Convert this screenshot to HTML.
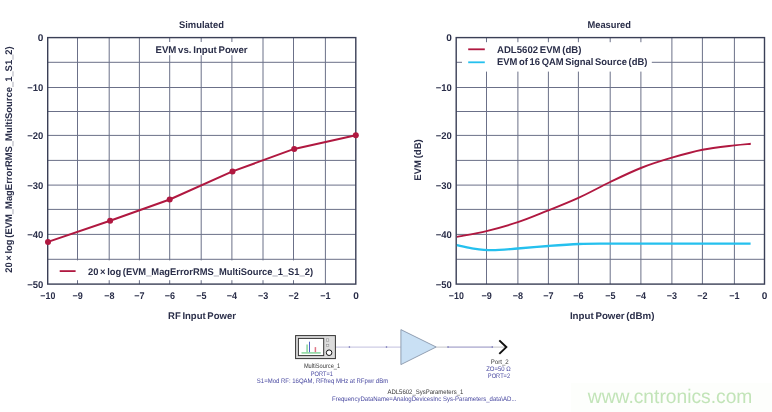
<!DOCTYPE html>
<html><head><meta charset="utf-8"><title>EVM vs. Input Power</title>
<style>
html,body{margin:0;padding:0;background:#fff;}
body{width:772px;height:412px;overflow:hidden;}
svg{display:block;will-change:transform;transform:translateZ(0);}
text{font-family:"Liberation Sans",sans-serif;text-rendering:geometricPrecision;}
.t{word-spacing:-1px;font-size:9.7px;font-weight:bold;fill:#2b2f4a;stroke:#2b2f4a;stroke-width:0;}
.s{font-size:6.6px;fill:#4848a0;}
.sd{font-size:6.6px;fill:#383838;}
</style></head><body>
<svg width="772" height="412" viewBox="0 0 772 412">
<rect width="772" height="412" fill="#fff"/>
<g stroke="#6b7088" stroke-width="1" fill="none"><line x1="77.50" y1="37.60" x2="77.50" y2="284.10"/><line x1="47.70" y1="62.30" x2="355.80" y2="62.30"/><line x1="109.20" y1="37.60" x2="109.20" y2="284.10"/><line x1="47.70" y1="87.50" x2="355.80" y2="87.50"/><line x1="139.40" y1="37.60" x2="139.40" y2="284.10"/><line x1="47.70" y1="111.50" x2="355.80" y2="111.50"/><line x1="169.70" y1="37.60" x2="169.70" y2="284.10"/><line x1="47.70" y1="135.40" x2="355.80" y2="135.40"/><line x1="201.20" y1="37.60" x2="201.20" y2="284.10"/><line x1="47.70" y1="160.40" x2="355.80" y2="160.40"/><line x1="231.90" y1="37.60" x2="231.90" y2="284.10"/><line x1="47.70" y1="185.10" x2="355.80" y2="185.10"/><line x1="263.00" y1="37.60" x2="263.00" y2="284.10"/><line x1="47.70" y1="209.40" x2="355.80" y2="209.40"/><line x1="293.50" y1="37.60" x2="293.50" y2="284.10"/><line x1="47.70" y1="234.40" x2="355.80" y2="234.40"/><line x1="325.40" y1="37.60" x2="325.40" y2="284.10"/><line x1="47.70" y1="259.30" x2="355.80" y2="259.30"/></g>
<g stroke="#6b7088" stroke-width="1" fill="none"><line x1="486.50" y1="37.60" x2="486.50" y2="284.10"/><line x1="456.20" y1="62.30" x2="764.50" y2="62.30"/><line x1="517.90" y1="37.60" x2="517.90" y2="284.10"/><line x1="456.20" y1="87.50" x2="764.50" y2="87.50"/><line x1="548.40" y1="37.60" x2="548.40" y2="284.10"/><line x1="456.20" y1="111.50" x2="764.50" y2="111.50"/><line x1="578.40" y1="37.60" x2="578.40" y2="284.10"/><line x1="456.20" y1="135.40" x2="764.50" y2="135.40"/><line x1="610.20" y1="37.60" x2="610.20" y2="284.10"/><line x1="456.20" y1="160.40" x2="764.50" y2="160.40"/><line x1="640.90" y1="37.60" x2="640.90" y2="284.10"/><line x1="456.20" y1="185.10" x2="764.50" y2="185.10"/><line x1="671.90" y1="37.60" x2="671.90" y2="284.10"/><line x1="456.20" y1="209.40" x2="764.50" y2="209.40"/><line x1="702.40" y1="37.60" x2="702.40" y2="284.10"/><line x1="456.20" y1="234.40" x2="764.50" y2="234.40"/><line x1="734.40" y1="37.60" x2="734.40" y2="284.10"/><line x1="456.20" y1="259.30" x2="764.50" y2="259.30"/></g>
<rect x="150" y="42" width="102" height="13.2" fill="#fff"/>
<rect x="48.4" y="260.4" width="271" height="19.8" fill="#fff"/>
<rect x="462" y="42.2" width="189.8" height="29.4" fill="#fff"/>
<rect x="47.70" y="37.60" width="308.10" height="246.50" fill="none" stroke="#3a3f56" stroke-width="1.4"/>
<text class="t" x="43.30" y="41.20" text-anchor="end" textLength="5.6" lengthAdjust="spacingAndGlyphs">0</text>
<text class="t" x="43.30" y="91.10" text-anchor="end" textLength="16.1" lengthAdjust="spacingAndGlyphs">−10</text>
<text class="t" x="43.30" y="139.00" text-anchor="end" textLength="16.1" lengthAdjust="spacingAndGlyphs">−20</text>
<text class="t" x="43.30" y="188.70" text-anchor="end" textLength="16.1" lengthAdjust="spacingAndGlyphs">−30</text>
<text class="t" x="43.30" y="238.00" text-anchor="end" textLength="16.1" lengthAdjust="spacingAndGlyphs">−40</text>
<text class="t" x="43.30" y="287.60" text-anchor="end" textLength="16.1" lengthAdjust="spacingAndGlyphs">−50</text>
<text class="t" x="47.80" y="299.30" text-anchor="middle" textLength="15.0" lengthAdjust="spacingAndGlyphs">−10</text>
<text class="t" x="77.60" y="299.30" text-anchor="middle" textLength="10.3" lengthAdjust="spacingAndGlyphs">−9</text>
<text class="t" x="109.30" y="299.30" text-anchor="middle" textLength="10.3" lengthAdjust="spacingAndGlyphs">−8</text>
<text class="t" x="139.50" y="299.30" text-anchor="middle" textLength="10.3" lengthAdjust="spacingAndGlyphs">−7</text>
<text class="t" x="169.80" y="299.30" text-anchor="middle" textLength="10.3" lengthAdjust="spacingAndGlyphs">−6</text>
<text class="t" x="201.30" y="299.30" text-anchor="middle" textLength="10.3" lengthAdjust="spacingAndGlyphs">−5</text>
<text class="t" x="232.00" y="299.30" text-anchor="middle" textLength="10.3" lengthAdjust="spacingAndGlyphs">−4</text>
<text class="t" x="263.10" y="299.30" text-anchor="middle" textLength="10.3" lengthAdjust="spacingAndGlyphs">−3</text>
<text class="t" x="293.60" y="299.30" text-anchor="middle" textLength="10.3" lengthAdjust="spacingAndGlyphs">−2</text>
<text class="t" x="325.50" y="299.30" text-anchor="middle" textLength="10.3" lengthAdjust="spacingAndGlyphs">−1</text>
<text class="t" x="356.00" y="299.30" text-anchor="middle" textLength="5.6" lengthAdjust="spacingAndGlyphs">0</text>
<rect x="456.20" y="37.60" width="308.30" height="246.50" fill="none" stroke="#3a3f56" stroke-width="1.4"/>
<text class="t" x="451.80" y="41.20" text-anchor="end" textLength="5.6" lengthAdjust="spacingAndGlyphs">0</text>
<text class="t" x="451.80" y="91.10" text-anchor="end" textLength="16.1" lengthAdjust="spacingAndGlyphs">−10</text>
<text class="t" x="451.80" y="139.00" text-anchor="end" textLength="16.1" lengthAdjust="spacingAndGlyphs">−20</text>
<text class="t" x="451.80" y="188.70" text-anchor="end" textLength="16.1" lengthAdjust="spacingAndGlyphs">−30</text>
<text class="t" x="451.80" y="238.00" text-anchor="end" textLength="16.1" lengthAdjust="spacingAndGlyphs">−40</text>
<text class="t" x="451.80" y="287.60" text-anchor="end" textLength="16.1" lengthAdjust="spacingAndGlyphs">−50</text>
<text class="t" x="456.30" y="299.30" text-anchor="middle" textLength="15.0" lengthAdjust="spacingAndGlyphs">−10</text>
<text class="t" x="486.60" y="299.30" text-anchor="middle" textLength="10.3" lengthAdjust="spacingAndGlyphs">−9</text>
<text class="t" x="518.00" y="299.30" text-anchor="middle" textLength="10.3" lengthAdjust="spacingAndGlyphs">−8</text>
<text class="t" x="548.50" y="299.30" text-anchor="middle" textLength="10.3" lengthAdjust="spacingAndGlyphs">−7</text>
<text class="t" x="578.50" y="299.30" text-anchor="middle" textLength="10.3" lengthAdjust="spacingAndGlyphs">−6</text>
<text class="t" x="610.30" y="299.30" text-anchor="middle" textLength="10.3" lengthAdjust="spacingAndGlyphs">−5</text>
<text class="t" x="641.00" y="299.30" text-anchor="middle" textLength="10.3" lengthAdjust="spacingAndGlyphs">−4</text>
<text class="t" x="672.00" y="299.30" text-anchor="middle" textLength="10.3" lengthAdjust="spacingAndGlyphs">−3</text>
<text class="t" x="702.50" y="299.30" text-anchor="middle" textLength="10.3" lengthAdjust="spacingAndGlyphs">−2</text>
<text class="t" x="734.50" y="299.30" text-anchor="middle" textLength="10.3" lengthAdjust="spacingAndGlyphs">−1</text>
<text class="t" x="764.50" y="299.30" text-anchor="middle" textLength="5.6" lengthAdjust="spacingAndGlyphs">0</text>
<text class="t" x="201.40" y="27.90" text-anchor="middle" textLength="45.0" lengthAdjust="spacingAndGlyphs">Simulated</text>
<text class="t" x="609.20" y="27.90" text-anchor="middle" textLength="43.5" lengthAdjust="spacingAndGlyphs">Measured</text>
<text class="t" x="201.50" y="52.80" text-anchor="middle" textLength="92.1" lengthAdjust="spacingAndGlyphs">EVM vs. Input Power</text>
<text class="t" x="202.00" y="319.00" text-anchor="middle" textLength="68.0" lengthAdjust="spacingAndGlyphs">RF Input Power</text>
<text class="t" x="612.20" y="319.00" text-anchor="middle" textLength="84.6" lengthAdjust="spacingAndGlyphs">Input Power (dBm)</text>
<text class="t" transform="translate(12.0,159.5) rotate(-90)" text-anchor="middle" textLength="226.5" lengthAdjust="spacingAndGlyphs">20 × log (EVM_MagErrorRMS_MultiSource_1_S1_2)</text>
<text class="t" transform="translate(421.2,160.0) rotate(-90)" text-anchor="middle" textLength="41.4" lengthAdjust="spacingAndGlyphs">EVM (dB)</text>
<line x1="59.7" y1="271.1" x2="75.6" y2="271.1" stroke="#b01840" stroke-width="1.8"/>
<text class="t" x="88.00" y="274.80" text-anchor="start" textLength="225.0" lengthAdjust="spacingAndGlyphs">20 × log (EVM_MagErrorRMS_MultiSource_1_S1_2)</text>
<line x1="468.2" y1="49.3" x2="484.8" y2="49.3" stroke="#b01840" stroke-width="1.8"/>
<line x1="468.2" y1="62.3" x2="484.8" y2="62.3" stroke="#25c0ee" stroke-width="1.8"/>
<text class="t" x="497.00" y="52.90" text-anchor="start" textLength="84.4" lengthAdjust="spacingAndGlyphs">ADL5602 EVM (dB)</text>
<text class="t" x="497.00" y="65.40" text-anchor="start" textLength="150.4" lengthAdjust="spacingAndGlyphs">EVM of 16 QAM Signal Source (dB)</text>
<polyline fill="none" stroke="#b01840" stroke-width="2" stroke-linejoin="round" points="48.0,241.9 110.1,220.7 169.7,199.5 232.5,171.4 294.2,148.9 355.8,135.2"/>
<circle cx="48.0" cy="241.9" r="3" fill="#b01840"/>
<circle cx="110.1" cy="220.7" r="3" fill="#b01840"/>
<circle cx="169.7" cy="199.5" r="3" fill="#b01840"/>
<circle cx="232.5" cy="171.4" r="3" fill="#b01840"/>
<circle cx="294.2" cy="148.9" r="3" fill="#b01840"/>
<circle cx="355.8" cy="135.2" r="3" fill="#b01840"/>
<path fill="none" stroke="#25c0ee" stroke-width="2.3" d="M456.9,245.1 C459.4,245.6 466.1,247.5 472.0,248.3 C477.9,249.1 484.4,250.1 492.0,250.1 C499.6,250.1 508.2,249.2 517.6,248.5 C527.0,247.8 538.3,246.8 548.5,246.0 C558.7,245.2 568.8,244.4 579.0,244.0 C589.2,243.6 593.2,243.7 610.0,243.6 C626.8,243.5 656.6,243.6 680.0,243.6 C703.4,243.6 738.8,243.6 750.6,243.6"/>
<path fill="none" stroke="#b01840" stroke-width="1.9" d="M456.9,236.9 C461.8,235.9 476.3,233.6 486.5,231.1 C496.7,228.6 507.6,225.6 517.9,222.2 C528.2,218.8 538.3,214.4 548.4,210.4 C558.5,206.4 568.1,202.6 578.4,197.9 C588.7,193.2 599.8,187.0 610.2,182.0 C620.6,177.0 630.6,172.1 640.9,168.0 C651.2,163.9 661.6,160.7 671.9,157.7 C682.1,154.7 692.0,151.9 702.4,149.8 C712.8,147.8 726.3,146.4 734.4,145.4 C742.5,144.4 748.1,144.1 750.8,143.8"/>
<g>
<line x1="335.5" y1="347.1" x2="400.9" y2="347.1" stroke="#b2b0d6" stroke-width="0.8"/>
<line x1="436.2" y1="347.1" x2="505" y2="347.1" stroke="#b4b4bc" stroke-width="0.8"/>
<line x1="448" y1="347.1" x2="492.5" y2="347.1" stroke="#aeaad8" stroke-width="1"/>
<circle cx="349.4" cy="347" r="0.8" fill="#6a6ab0"/><circle cx="386.5" cy="347" r="0.8" fill="#6a6ab0"/>
<circle cx="448" cy="347" r="0.8" fill="#6a6ab0"/><circle cx="492.3" cy="347" r="0.8" fill="#6a6ab0"/>
<rect x="295.6" y="335.6" width="39.8" height="23" fill="#dcdcdc" stroke="#333" stroke-width="1"/>
<rect x="298.4" y="338.4" width="25.3" height="17.2" fill="#fff" stroke="#333" stroke-width="1"/>
<rect x="326.4" y="338.8" width="2.4" height="2.4" fill="#e8e8e8" stroke="#888" stroke-width="0.5"/>
<rect x="326.4" y="344.3" width="2.4" height="2.4" fill="#e8e8e8" stroke="#888" stroke-width="0.5"/>
<circle cx="329.1" cy="352.7" r="2.8" fill="#fff" stroke="#111" stroke-width="1"/>
<line x1="301.5" y1="352.9" x2="320.7" y2="352.9" stroke="#8fd8a2" stroke-width="1.6"/>
<line x1="307.1" y1="344.5" x2="307.1" y2="352.5" stroke="#8fd8a2" stroke-width="1.6"/>
<line x1="309.5" y1="341.7" x2="309.5" y2="352.2" stroke="#3a4fc0" stroke-width="0.9"/>
<line x1="315.4" y1="347.1" x2="315.4" y2="352.2" stroke="#e07585" stroke-width="1.5"/>
<polygon points="400.9,329.6 400.9,364.6 436.2,347" fill="#c9e0f4" stroke="#7c8aa0" stroke-width="0.8"/>
<polyline points="499.3,340.4 506.3,347.1 499.3,353.9" fill="none" stroke="#111" stroke-width="2" stroke-linejoin="miter"/>
</g>
<text class="sd" x="322.00" y="368.00" text-anchor="middle" textLength="36.2" lengthAdjust="spacingAndGlyphs">MultiSource_1</text>
<text class="s" x="321.90" y="375.50" text-anchor="middle" textLength="22.1" lengthAdjust="spacingAndGlyphs">PORT=1</text>
<text class="s" x="322.50" y="383.30" text-anchor="middle" textLength="131.3" lengthAdjust="spacingAndGlyphs">S1=Mod RF: 16QAM, RFfreq MHz at RFpwr dBm</text>
<text class="sd" x="425.40" y="393.50" text-anchor="middle" textLength="75.9" lengthAdjust="spacingAndGlyphs">ADL5602_SysParameters_1</text>
<text class="s" x="424.20" y="400.90" text-anchor="middle" textLength="184.5" lengthAdjust="spacingAndGlyphs">FrequencyDataName=AnalogDevicesInc Sys-Parameters_data\AD...</text>
<text class="sd" x="499.70" y="363.60" text-anchor="middle" textLength="18.0" lengthAdjust="spacingAndGlyphs">Port_2</text>
<text class="s" x="498.40" y="371.20" text-anchor="middle" textLength="24.5" lengthAdjust="spacingAndGlyphs">ZO=50 Ω</text>
<text class="s" x="499.00" y="378.20" text-anchor="middle" textLength="22.3" lengthAdjust="spacingAndGlyphs">PORT=2</text>
<rect x="571" y="383" width="201" height="29" fill="#fdfefc"/>
<text x="587.8" y="403.2" font-size="19.6" fill="#c2e4b8" textLength="164.6" lengthAdjust="spacingAndGlyphs">www.cntronics.com</text>
</svg></body></html>
